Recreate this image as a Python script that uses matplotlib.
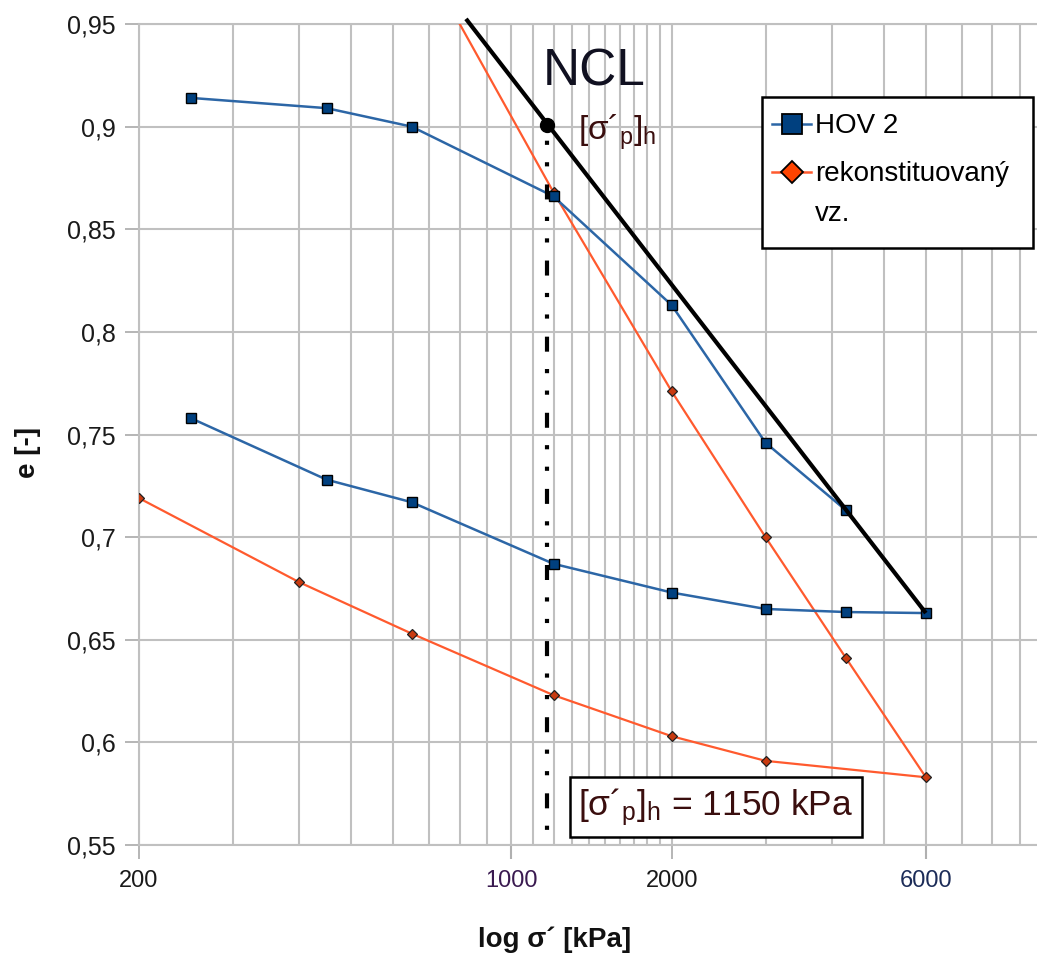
import matplotlib
matplotlib.use("Agg")
import matplotlib.pyplot as plt
from matplotlib.lines import Line2D
from matplotlib.patches import Rectangle

plt.rcParams['font.family'] = ['Liberation Sans', 'DejaVu Sans']
plt.rcParams['mathtext.fontset'] = 'custom'
plt.rcParams['mathtext.rm'] = 'Liberation Sans'
plt.rcParams['mathtext.it'] = 'Liberation Sans:italic'
plt.rcParams['lines.scale_dashes'] = False

# ---------------- data ----------------
hov_x = [250, 450, 650, 1200, 2000, 3000, 4250, 6000, 4250, 3000, 2000, 1200, 650, 450, 250]
hov_e = [0.914, 0.909, 0.900, 0.866, 0.813, 0.746, 0.713, 0.663,
         0.6635, 0.665, 0.673, 0.687, 0.717, 0.728, 0.758]

rek_x = [650, 1200, 2000, 3000, 4250, 6000, 3000, 2000, 1200, 650, 400, 200]
rek_e = [0.992, 0.868, 0.771, 0.700, 0.641, 0.583, 0.591, 0.603, 0.623, 0.653, 0.678, 0.719]

ncl_x = [822, 6000]
ncl_e = [0.9525, 0.663]

sp_x = 1165          # preconsolidation stress position
sp_e = 0.901

xticks = [200, 1000, 2000, 6000]
xtick_labels = ['200', '1000', '2000', '6000']
xgrid = [300, 400, 500, 600, 700, 800, 900, 1000,
         1100, 1200, 1300, 1400, 1500, 1600, 1700, 1800, 1900, 2000,
         3000, 4000, 5000, 6000, 7000, 8000, 9000]
yticks = [0.55, 0.6, 0.65, 0.7, 0.75, 0.8, 0.85, 0.9, 0.95]
ytick_labels = ['0,55', '0,6', '0,65', '0,7', '0,75', '0,8', '0,85', '0,9', '0,95']

W, H = 1037, 958
BLUE = '#2c66a6'
BLUE_M = '#00407f'
ORANGE = '#ff5a2e'
ORANGE_M = '#c83a10'
GRID = '#c0c0c0'
TXT = '#3a0e0e'

fig = plt.figure(figsize=(W / 100, H / 100), dpi=100)
ax = fig.add_axes([139 / W, 1 - 845 / H, (W - 139) / W, 821 / H])
ax.set_xscale('log')
ax.set_xlim(200, 9700)
ax.set_ylim(0.55, 0.95)

# grid
ax.set_xticks(xticks)
ax.set_xticklabels(xtick_labels)
ax.set_xticks(xgrid, minor=True)
ax.set_yticks(yticks)
ax.set_yticklabels(ytick_labels)
ax.xaxis.set_minor_formatter(matplotlib.ticker.NullFormatter())
ax.grid(True, which='both', axis='x', color=GRID, lw=1.5)
ax.grid(True, which='major', axis='y', color=GRID, lw=1.5)
ax.set_axisbelow(True)
ax.tick_params(axis='x', which='minor', length=0)
ax.tick_params(axis='both', which='major', length=10, width=1.3, color='#b0b0b0',
               labelsize=17, labelcolor='#1a1a1a', direction='out')
ax.tick_params(axis='y', pad=7, labelsize=18)
ax.tick_params(axis='x', pad=8)
for sp in ['left', 'top', 'bottom']:
    ax.spines[sp].set_color(GRID)
    ax.spines[sp].set_linewidth(1.5)
ax.spines['right'].set_visible(False)

for t, lab in zip(ax.xaxis.get_major_ticks(), xtick_labels):
    if lab in ('1000', '6000'):
        t.tick1line.set_color('black')
        t.tick1line.set_markeredgewidth(1.5)
for lbl in ax.get_xticklabels():
    if lbl.get_text() == '1000':
        lbl.set_color('#3a1a50')
    elif lbl.get_text() == '6000':
        lbl.set_color('#1c2c58')

# series
ax.plot(rek_x, rek_e, color=ORANGE, lw=1.6, marker='D', markersize=5.5,
        markerfacecolor=ORANGE_M, markeredgecolor='#202020', markeredgewidth=0.9, zorder=3)
ax.plot(hov_x, hov_e, color=BLUE, lw=1.8, marker='s', markersize=6.5,
        markerfacecolor=BLUE_M, markeredgecolor='black', markeredgewidth=1.0, zorder=4)
ax.plot(ncl_x, ncl_e, color='black', lw=3.0, clip_on=False, zorder=5,
        solid_capstyle='butt')
ax.plot([sp_x, sp_x], [sp_e, 0.55], color='black', lw=3.0, zorder=5,
        linestyle=(12, (10.8, 12.5, 3.0, 12.5, 3.0, 13)), dash_capstyle='butt')
ax.plot([sp_x], [sp_e], marker='o', markersize=10, color='black', zorder=6)

# texts
fig.text(543 / W, 1 - 85 / H, 'NCL', fontsize=37, color='#101020',
         ha='left', va='baseline')
fig.text(578 / W, 1 - 140 / H, r'[σ´$_\mathrm{p}$]$_\mathrm{h}$', fontsize=24,
         color=TXT, ha='left', va='baseline')
fig.text(716 / W, 1 - 807 / H, r'[σ´$_\mathrm{p}$]$_\mathrm{h}$ = 1150 kPa', fontsize=25.5,
         color=TXT, ha='center', va='center',
         bbox=dict(boxstyle='square,pad=0.25', facecolor='white', edgecolor='black', lw=1.8))

fig.text(555 / W, 1 - 940 / H, 'log σ´ [kPa]', fontsize=20, fontweight='bold',
         ha='center', va='center', color='#111111')
fig.text(28 / W, 1 - 452 / H, 'e [-]', fontsize=20, fontweight='bold', rotation=90,
         ha='center', va='center', color='#111111')

# legend (manual)
def fx(x):
    return x / W

def fy(y):
    return 1 - y / H

fig.add_artist(Rectangle((fx(762), fy(248)), (1033 - 762) / W, (248 - 97) / H,
                         transform=fig.transFigure, facecolor='white',
                         edgecolor='black', lw=1.8, zorder=10))
fig.add_artist(Line2D([fx(772), fx(811)], [fy(124), fy(124)], transform=fig.transFigure,
                      color=BLUE, lw=1.8, zorder=11))
fig.add_artist(Line2D([fx(792)], [fy(124)], transform=fig.transFigure, marker='s',
                      markersize=14, markerfacecolor=BLUE_M, markeredgecolor='black',
                      markeredgewidth=1.3, zorder=12))
fig.add_artist(Line2D([fx(772), fx(811)], [fy(172), fy(172)], transform=fig.transFigure,
                      color=ORANGE, lw=1.8, zorder=11))
fig.add_artist(Line2D([fx(792)], [fy(172)], transform=fig.transFigure, marker='D',
                      markersize=11, markerfacecolor='#ff4400', markeredgecolor='black',
                      markeredgewidth=1.3, zorder=12))
fig.text(fx(815), fy(126), 'HOV 2', fontsize=20, ha='left', va='center', zorder=13)
fig.text(fx(815), fy(174), 'rekonstituovaný', fontsize=20, ha='left', va='center', zorder=13)
fig.text(fx(815), fy(214), 'vz.', fontsize=20, ha='left', va='center', zorder=13)

fig.savefig('out.png', dpi=100)
